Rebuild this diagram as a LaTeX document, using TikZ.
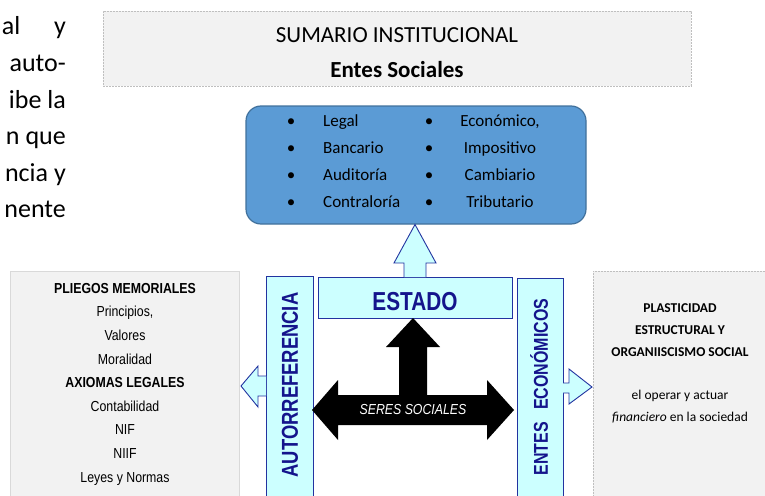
\documentclass[tikz,border=0pt]{standalone}
\usepackage{fontspec}
\setmainfont{Carlito}
\newfontfamily\narrowfont{Liberation Sans}[FakeStretch=0.85]
\newfontfamily\condfont{Liberation Sans}[FakeStretch=0.8]
\definecolor{cianclaro}{HTML}{CCFFFF}
\definecolor{bordeazul}{HTML}{2233A0}
\definecolor{textoazul}{HTML}{14148C}
\definecolor{cajaazul}{HTML}{5B9BD5}
\definecolor{bordecaja}{HTML}{41719C}
\definecolor{fondogris}{HTML}{F2F2F2}
\definecolor{lineagris}{HTML}{BFBFBF}

\begin{document}
\begin{tikzpicture}[x=1pt,y=-1pt,inner sep=0pt,
    panel/.style={fill=fondogris,draw=lineagris,line width=0.6pt},
    rayado/.style={dash pattern=on 2pt off 1pt},
    cianbox/.style={fill=cianclaro,draw=bordeazul,line width=0.9pt},
    bloque/.style={fill=cianclaro,draw=bordeazul,line width=0.9pt,line join=miter},
    rotulo/.style={text=textoazul,font=\condfont\bfseries},
    corte/.style={anchor=base east,font=\fontsize{26}{30}\selectfont},
    item/.style={font=\fontsize{17}{20}\selectfont},
    gris/.style={font=\narrowfont\fontsize{14.5}{17}\selectfont,anchor=base},
    plast/.style={font=\fontsize{13.5}{16}\selectfont,anchor=base}]

      \useasboundingbox (0,0) rectangle (765,495);
      \clip (0,0) rectangle (765,495);

      % texto cortado a la izquierda
      \node[corte] (t1) at (66,35) {\makebox[64pt]{al\hfill y}};
      \node[corte] (t2) at (66,71.5) {auto-};
      \node[corte] (t3) at (66,108) {ibe la};
      \node[corte] (t4) at (66,144.5) {n\hspace{6pt}que};
      \node[corte] (t5) at (66,181) {ncia y};
      \node[corte] (t6) at (66,217.5) {nente};

      % sumario
      \node[panel,rayado,minimum width=588pt,minimum height=75pt] (sumario) at (397,48.5) {};
      \node[anchor=base,font=\fontsize{23}{26}\selectfont] (titulo) at (397,42.5) {SUMARIO INSTITUCIONAL};
      \node[anchor=base,font=\fontsize{23}{26}\selectfont\bfseries] (subtitulo) at (397,77.5) {Entes Sociales};

      % ramas
      \node[fill=cajaazul,draw=bordecaja,line width=1.2pt,rounded corners=15pt,
            minimum width=340pt,minimum height=118pt] (ramas) at (416,165) {};
      \foreach \izq/\der [count=\i] in {Legal/{Económico,},Bancario/Impositivo,Auditoría/Cambiario,Contraloría/Tributario} {
        \node[item,anchor=base] (b\i) at (291,{99.5+27*\i}) {•};
        \node[item,anchor=base west] (izq\i) at (323,{99.5+27*\i}) {\izq};
        \node[item,anchor=base] (c\i) at (429,{99.5+27*\i}) {•};
        \node[item,anchor=base] (der\i) at (500,{99.5+27*\i}) {\der};
      }

      % paneles laterales
      \node[panel,draw=lineagris!60,minimum width=229pt,minimum height=229pt] (pliegos) at (124.5,385.5) {};
      \foreach \t [count=\i] in {\textbf{PLIEGOS MEMORIALES},{Principios,},Valores,Moralidad,
          \textbf{AXIOMAS LEGALES},Contabilidad,NIF,NIIF,Leyes y Normas}
        \node[gris] (g\i) at (125,{269.6+23.6*\i}) {\t};

      \node[panel,rayado,minimum width=180pt,minimum height=229pt] (plasticidad) at (683,385.5) {};
      \node[plast] (p1) at (680,312.5) {\textbf{PLASTICIDAD}};
      \node[plast] (p2) at (680,334.5) {\textbf{ESTRUCTURAL Y}};
      \node[plast] (p3) at (680,356.5) {\textbf{ORGANIISCISMO SOCIAL}};
      \node[plast] (p4) at (680,399.5) {el operar y actuar};
      \node[plast] (p5) at (680,421.5) {\textit{financiero} en la sociedad};

      % columnas y estado
      \node[cianbox,minimum width=47pt,minimum height=224pt] (autoref) at (289.5,388) {};
      \node[cianbox,minimum width=46pt,minimum height=222pt] (entes) at (540,389) {};
      \node[cianbox,minimum width=194pt,minimum height=41pt] (estado) at (415,297.5) {};
      \node[rotulo,font=\condfont\bfseries\fontsize{26}{28}\selectfont] at ([yshift=-4.5pt]estado.center) {ESTADO};
      \node[rotulo,font=\condfont\bfseries\fontsize{23}{26}\selectfont,rotate=90] at (290,385) {AUTORREFERENCIA};
      \node[rotulo,font=\condfont\bfseries\fontsize{20}{22}\selectfont,rotate=90] at (539,387) {ENTES\hspace{12pt}ECONÓMICOS};

      % flechas claras
      \draw[bloque] (404,277) -- (404,263) -- (394,263) -- (415,224.5) -- (436,263) -- (426,263) -- (426,277);
      \draw[bloque] (266,376) -- (258,376) -- (258,366) -- (241,386) -- (258,407) -- (258,396) -- (266,396);
      \draw[bloque] (563,383) -- (569,383) -- (569,369) -- (592,387) -- (569,404) -- (569,393) -- (563,393);

      % flecha negra
      \fill (312,410) -- (338,380) -- (338,395) -- (399,395) -- (399,347) -- (386,347) -- (413,318)
        -- (440,347) -- (427,347) -- (427,395) -- (487,395) -- (487,380) -- (514,410) -- (487,440)
        -- (487,425) -- (338,425) -- (338,440) -- cycle;
      \node[text=white,font=\narrowfont\itshape\fontsize{14.5}{17}\selectfont] (seres) at (413,410) {SERES SOCIALES};

    \end{tikzpicture}
\end{document}
